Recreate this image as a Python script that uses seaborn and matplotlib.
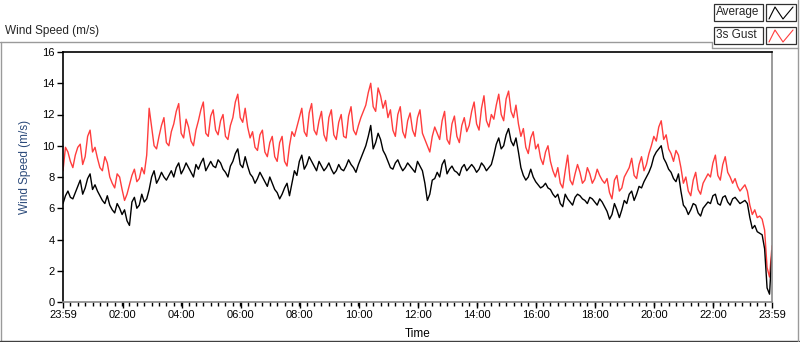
import numpy as np
import pandas as pd
import matplotlib
matplotlib.use("Agg")
import matplotlib.pyplot as plt
import matplotlib.dates as mdates
from matplotlib.ticker import FixedLocator, NullLocator
from matplotlib.lines import Line2D
from matplotlib.patches import Rectangle
import seaborn as sns

# Data.
# Main readings every 10 minutes (23:59 -> 23:59), plus the readings in between (5 minutes later)
start_time = "2014-01-01 23:59"
sample_step = "10min"
mid_offset = "5min"

gust = [8.4, 9.6, 8.6, 9.9, 8.8, 10.6, 9.6, 9.2, 8.4, 8.9,
        7.6, 8.2, 7.2, 6.9, 8.1, 7.7, 8.6, 9.4, 11.2, 9.8,
        11.3, 10.2, 10.9, 12.2, 10.8, 11.7, 10.3, 11.0, 12.3, 10.8,
        11.9, 11.0, 11.6, 10.6, 11.3, 12.8, 11.8, 12.4, 10.5, 9.9,
        10.7, 9.6, 10.2, 9.3, 10.2, 9.0, 10.0, 10.6, 11.8, 10.9,
        12.1, 11.0, 11.6, 10.7, 11.8, 10.7, 11.5, 10.6, 11.9, 11.0,
        11.3, 12.2, 13.4, 12.5, 13.7, 12.4, 11.8, 11.0, 12.0, 10.9,
        11.6, 11.0, 11.8, 10.8, 10.0, 10.6, 10.8, 11.6, 10.4, 11.4,
        10.6, 11.3, 10.9, 12.2, 11.4, 12.4, 11.6, 12.0, 12.6, 12.0,
        13.0, 12.2, 12.6, 10.6, 9.9, 10.5, 9.8, 9.2, 9.6, 9.0,
        8.0, 7.6, 8.4, 7.8, 8.2, 8.3, 7.8, 8.2, 7.9, 8.1,
        7.6, 7.0, 7.8, 7.1, 8.0, 8.6, 8.1, 8.8, 8.4, 9.5,
        10.6, 11.2, 10.4, 9.8, 9.0, 9.4, 7.6, 7.1, 7.8, 7.2,
        7.6, 8.2, 8.9, 8.1, 8.8, 8.3, 7.6, 7.4, 7.3, 7.1,
        5.6, 5.4, 5.3, 2.2, 3.6]

gust_mid = [9.9, 9.0, 9.4, 10.1, 9.3, 11.0, 9.9, 8.6, 9.3, 8.0,
            7.3, 8.0, 6.5, 7.5, 8.5, 7.9, 8.2, 12.4, 10.0, 10.6,
            11.8, 10.0, 11.4, 12.7, 10.5, 11.2, 10.0, 11.6, 12.8, 10.6,
            12.3, 10.7, 12.0, 10.4, 11.8, 13.3, 11.5, 11.2, 10.9, 9.7,
            11.0, 9.3, 10.6, 9.0, 10.6, 8.7, 10.9, 11.2, 12.4, 10.6,
            12.7, 10.7, 12.2, 10.3, 12.3, 10.4, 12.0, 10.5, 12.5, 10.7,
            11.8, 12.6, 14.0, 12.2, 13.2, 12.9, 12.3, 10.6, 12.5, 10.5,
            12.1, 10.6, 12.3, 10.4, 9.6, 11.2, 10.4, 12.2, 10.1, 11.9,
            10.2, 11.8, 11.3, 12.8, 11.0, 13.2, 11.2, 11.7, 13.3, 11.6,
            13.5, 11.8, 11.4, 11.1, 9.5, 10.9, 10.1, 8.8, 10.0, 8.4,
            8.6, 7.3, 9.4, 7.5, 8.8, 7.6, 8.6, 7.6, 8.5, 7.8,
            7.9, 6.6, 8.1, 7.3, 8.3, 9.2, 7.9, 9.3, 8.8, 10.0,
            10.3, 11.6, 10.7, 9.5, 9.7, 8.6, 8.0, 6.8, 8.3, 6.9,
            7.9, 8.0, 9.4, 7.8, 9.3, 8.0, 7.9, 7.1, 7.5, 6.2,
            5.9, 5.5, 4.6, 1.6]

average = [6.3, 7.1, 6.6, 7.4, 6.9, 7.9, 7.2, 7.1, 6.5, 6.8,
           5.9, 6.3, 5.6, 5.2, 6.4, 6.0, 6.9, 6.6, 8.0, 7.6,
           8.3, 7.8, 8.4, 8.6, 8.2, 8.9, 8.3, 8.8, 8.9, 8.4,
           9.0, 8.6, 8.9, 8.3, 8.7, 9.5, 8.8, 9.3, 8.2, 7.6,
           8.3, 7.7, 8.0, 7.2, 6.6, 7.3, 6.8, 8.4, 9.0, 8.5,
           9.3, 8.7, 9.0, 8.4, 8.9, 8.2, 8.8, 8.4, 9.1, 8.6,
           8.8, 9.6, 10.6, 9.8, 10.8, 9.7, 9.0, 8.5, 9.1, 8.4,
           8.9, 8.5, 9.0, 8.4, 6.5, 7.8, 8.3, 8.8, 8.2, 8.7,
           8.3, 8.6, 8.4, 8.8, 8.3, 8.9, 8.4, 8.8, 10.1, 9.8,
           10.7, 10.3, 10.5, 8.6, 7.8, 8.5, 7.7, 7.3, 7.6, 7.2,
           6.7, 6.3, 6.9, 6.4, 6.7, 6.8, 6.5, 6.7, 6.4, 6.6,
           6.1, 5.3, 6.3, 5.4, 6.5, 6.9, 6.5, 7.4, 7.7, 8.3,
           9.3, 9.8, 9.2, 8.5, 7.9, 8.2, 6.2, 5.6, 6.3, 5.7,
           6.0, 6.4, 6.8, 6.3, 6.7, 6.4, 6.6, 6.5, 6.4, 6.3,
           4.7, 4.5, 4.3, 0.9, 3.3]

average_mid = [6.8, 6.7, 7.0, 7.8, 7.3, 8.2, 7.5, 6.8, 6.3, 6.2,
               5.7, 6.0, 5.9, 4.9, 6.7, 6.2, 6.4, 7.2, 8.4, 7.9,
               8.0, 8.1, 8.0, 8.9, 8.5, 8.6, 8.0, 8.5, 9.2, 8.7,
               8.7, 9.1, 8.5, 8.0, 9.0, 9.8, 8.6, 8.7, 8.0, 7.9,
               8.0, 7.4, 7.6, 7.0, 6.9, 7.6, 7.6, 8.1, 9.4, 8.8,
               9.0, 8.4, 8.7, 8.6, 8.5, 8.4, 8.5, 8.7, 8.8, 8.3,
               9.2, 10.0, 11.3, 10.2, 10.4, 9.4, 8.6, 8.9, 8.7, 8.6,
               8.7, 8.3, 8.7, 7.6, 6.9, 7.9, 8.0, 9.1, 8.5, 8.4,
               8.1, 8.8, 8.6, 8.6, 8.5, 8.7, 8.6, 9.4, 10.5, 10.0,
               11.1, 10.0, 9.6, 8.1, 8.0, 8.0, 7.5, 7.4, 7.3, 6.9,
               6.9, 6.1, 6.6, 6.2, 6.9, 6.6, 6.3, 6.6, 6.2, 6.4,
               5.8, 5.6, 5.9, 5.9, 6.3, 7.1, 6.9, 7.3, 8.0, 8.7,
               9.6, 10.0, 8.9, 8.3, 7.7, 7.1, 6.0, 5.9, 6.2, 5.5,
               6.2, 6.3, 6.9, 6.2, 6.8, 6.2, 6.7, 6.3, 6.5, 5.4,
               4.9, 4.4, 3.4, 0.5]

series_names = ["3s Gust", "Average"]
series_colors = {"3s Gust": "#ff3d3d", "Average": "black"}
y_ticks = [0, 2, 4, 6, 8, 10, 12, 14, 16]
x_tick_labels = ["23:59", "02:00", "04:00", "06:00", "08:00", "10:00", "12:00",
                 "14:00", "16:00", "18:00", "20:00", "22:00", "23:59"]

times = pd.date_range(start_time, periods=len(gust), freq=sample_step)
times_mid = times[:-1] + pd.Timedelta(mid_offset)
df = pd.concat([
    pd.DataFrame({"Time": times, "3s Gust": gust, "Average": average}),
    pd.DataFrame({"Time": times_mid, "3s Gust": gust_mid, "Average": average_mid}),
]).sort_values("Time")
long_df = df.melt(id_vars="Time", var_name="Series", value_name="Wind Speed")

sns.set_theme(style="white")
plt.rcParams["font.family"] = ["Liberation Sans", "DejaVu Sans"]

W, H = 800, 342
fig = plt.figure(figsize=(W / 100, H / 100), dpi=100)


def fx(x):
    return x / W


def fy(y):
    return 1 - y / H


ax = fig.add_axes([fx(63), fy(302), (772 - 63) / W, (302 - 52) / H])

sns.lineplot(data=long_df, x="Time", y="Wind Speed", hue="Series",
             hue_order=series_names, palette=series_colors,
             linewidth=1, legend=False, ax=ax)

ax.set_xlim(times[0], times[-1])
ax.set_ylim(y_ticks[0], y_ticks[-1])
ax.set_yticks(y_ticks)
ax.yaxis.set_minor_locator(NullLocator())

# x ticks: first and last sample plus the labelled hours of the next day
next_day = times[0].normalize() + pd.Timedelta(days=1)
tick_times = [times[0]] + [pd.Timestamp(f"{next_day.date()} {t}") for t in x_tick_labels[1:-1]] + [times[-1]]
ax.xaxis.set_major_locator(FixedLocator(mdates.date2num(tick_times)))
ax.set_xticklabels(x_tick_labels)

ax.set_xlabel("Time", fontsize=8.5, color="black")
ax.set_ylabel("Wind Speed (m/s)", fontsize=8.5, color="#2b4a7a")
ax.xaxis.set_label_coords(0.5, -0.105)
ax.yaxis.set_label_coords(-0.045, 0.54)

ax.grid(False)
for side in ["top", "left"]:
    ax.spines[side].set_color("black")
    ax.spines[side].set_linewidth(1.2)
for side in ["bottom", "right"]:
    ax.spines[side].set_color("#8a8a8a")
    ax.spines[side].set_linewidth(1.2)

# ticks (minor every 15 minutes)
minor_times = pd.date_range(times[0], times[-1], freq="15min")
ax.xaxis.set_minor_locator(FixedLocator(mdates.date2num(minor_times)))
ax.tick_params(axis="x", which="minor", direction="out", length=3, width=1,
               color="black", bottom=True)
ax.tick_params(axis="both", which="major", direction="out", length=4, width=1,
               labelsize=8, color="black", labelcolor="black", pad=2,
               bottom=True, left=True)

# chart title above the frame
fig.text(fx(5), fy(31), "Wind Speed (m/s)", fontsize=8.5, va="center", ha="left")

# outer panel frame
frame_lines = [
    ([0, 712], [42, 42], "#9a9a9a"),
    ([0.5, 0.5], [42, 341], "#9a9a9a"),
    ([0, 799], [341, 341], "#404040"),
    ([798, 798], [0, 341], "#9a9a9a"),
    ([712, 798], [48, 48], "#9a9a9a"),
    ([712, 712], [42, 48], "#9a9a9a"),
]
for xs, ys, c in frame_lines:
    fig.add_artist(Line2D([fx(v) for v in xs], [fy(v) for v in ys],
                          transform=fig.transFigure, color=c, lw=1))

# legend boxes (LabVIEW style plot legend)
for row, name in enumerate(["Average", "3s Gust"]):
    top = 4 + row * 23
    fig.add_artist(Rectangle((fx(714), fy(top + 17)), 49 / W, 17 / H,
                             transform=fig.transFigure, facecolor="white",
                             edgecolor="#303030", lw=0.9))
    fig.add_artist(Rectangle((fx(766), fy(top + 17)), 30 / W, 17 / H,
                             transform=fig.transFigure, facecolor="white",
                             edgecolor="#303030", lw=0.9))
    fig.text(fx(716), fy(top + 8.5), name, fontsize=8.5, va="center", ha="left")
    zx = [769, 775, 783, 793]
    zy = [top + 15, top + 3, top + 15, top + 3]
    fig.add_artist(Line2D([fx(v) for v in zx], [fy(v) for v in zy],
                          transform=fig.transFigure,
                          color=series_colors[name], lw=0.8))

fig.savefig("out.png", dpi=100)
